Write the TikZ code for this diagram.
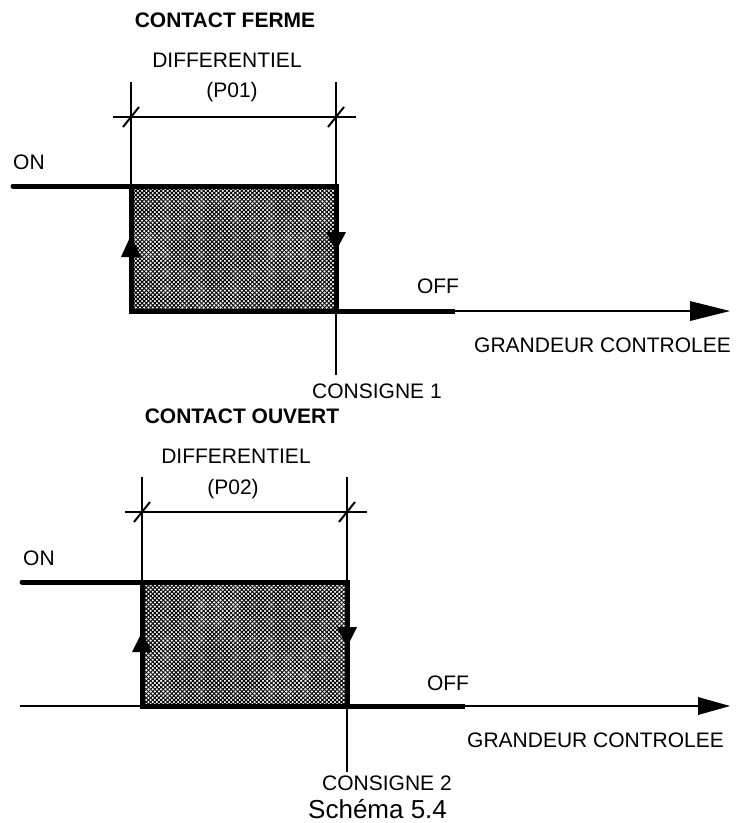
\documentclass[tikz,border=0pt]{standalone}
\usepackage{fontspec}
\setmainfont{Liberation Sans}
\usetikzlibrary{patterns.meta}
\begin{document}
\begin{tikzpicture}[x=1pt,y=-1pt,
  thinln/.style={line width=2pt},
  thickln/.style={line width=5pt},
  lbl/.style={inner sep=0pt,anchor=base,font=\fontsize{21}{25}\selectfont},
  lblw/.style={lbl,anchor=base west},
  ttl/.style={inner sep=0pt,anchor=base,font=\fontsize{21}{25}\selectfont\bfseries},
  tipfill/.style={fill=black},
  hatchA/.style={pattern={Lines[angle=45,distance=3pt,line width=1pt]}},
  hatchB/.style={pattern={Lines[angle=-45,distance=3pt,line width=1pt]}},
]
\useasboundingbox (0,0) rectangle (737,823);

% ================= TOP : CONTACT FERME =================
\node[ttl] (t1title) at (225,27) {CONTACT FERME};
\node[lbl] (t1diff) at (227,67) {DIFFERENTIEL};
\node[lbl] (t1p) at (232,97) {(P01)};
\node[lblw] (t1on) at (13,169) {ON};
\node[lbl] (t1off) at (438,293) {OFF};
\node[lblw] (t1gr) at (474,352) {GRANDEUR CONTROLEE};
\node[lblw] (t1cons) at (312,398) {CONSIGNE 1};

\coordinate (t1Ltop) at (131,82);
\coordinate (t1Lbot) at (131,311);
\coordinate (t1Rtop) at (336,82);
\coordinate (t1Rbot) at (336,375);
\coordinate (t1DimL) at (113,117);
\coordinate (t1DimR) at (356,117);
\coordinate (t1A) at (131,186);
\coordinate (t1B) at (336,311);
\coordinate (t1OnL) at (13,186);
\coordinate (t1OffE) at (455,311);
\coordinate (t1AxE) at (692,311);

\fill[hatchA] (t1A) rectangle (t1B);
\fill[hatchB] (t1A) rectangle (t1B);
\draw[thinln] (t1Ltop) -- (t1Lbot);
\draw[thinln] (t1Rtop) -- (t1Rbot);
\draw[thinln] (t1DimL) -- (t1DimR);
\draw[thinln] (131,117) ++(-8,10) -- ++(16,-20);
\draw[thinln] (336,117) ++(-8,10) -- ++(16,-20);
\draw[thickln,line cap=round] (t1OnL) -- (t1A);
\draw[thickln] (t1A) rectangle (t1B);
\draw[thickln] (t1B) -- (t1OffE);
\draw[thinln] (t1OffE) -- (t1AxE);
\fill[tipfill] (690,301) -- (730,311) -- (690,321) -- cycle;
\fill[tipfill] (131,235) -- (141,257) -- (121,257) -- cycle;
\fill[tipfill] (326,232) -- (346,232) -- (336,251) -- cycle;

% ================= BOTTOM : CONTACT OUVERT =================
\node[ttl] (t2title) at (242,423) {CONTACT OUVERT};
\node[lbl] (t2diff) at (236,463) {DIFFERENTIEL};
\node[lbl] (t2p) at (233,494) {(P02)};
\node[lblw] (t2on) at (23,565) {ON};
\node[lbl] (t2off) at (448,690) {OFF};
\node[lblw] (t2gr) at (467,747) {GRANDEUR CONTROLEE};
\node[lblw] (t2cons) at (322,790) {CONSIGNE 2};
\node[inner sep=0pt,anchor=base west,font=\fontsize{26}{30}\selectfont] (cap) at (308,818) {Schéma 5.4};

\coordinate (t2Ltop) at (142,477);
\coordinate (t2Lbot) at (142,706);
\coordinate (t2Rtop) at (347,477);
\coordinate (t2Rbot) at (347,772);
\coordinate (t2DimL) at (125,512);
\coordinate (t2DimR) at (367,512);
\coordinate (t2A) at (142,582);
\coordinate (t2B) at (347,706);
\coordinate (t2OnL) at (22,582);
\coordinate (t2AxS) at (20,706);
\coordinate (t2OffE) at (465,706);
\coordinate (t2AxE) at (700,706);

\fill[hatchA] (t2A) rectangle (t2B);
\fill[hatchB] (t2A) rectangle (t2B);
\draw[thinln] (t2AxS) -- (t2AxE);
\draw[thinln] (t2Ltop) -- (t2Lbot);
\draw[thinln] (t2Rtop) -- (t2Rbot);
\draw[thinln] (t2DimL) -- (t2DimR);
\draw[thinln] (142,512) ++(-8,10) -- ++(16,-20);
\draw[thinln] (347,512) ++(-8,10) -- ++(16,-20);
\draw[thickln,line cap=round] (t2OnL) -- (t2A);
\draw[thickln] (t2A) rectangle (t2B);
\draw[thickln] (t2B) -- (t2OffE);
\fill[tipfill] (698,697) -- (730,706) -- (698,715) -- cycle;
\fill[tipfill] (142,632) -- (152,652) -- (132,652) -- cycle;
\fill[tipfill] (337,627) -- (357,627) -- (347,647) -- cycle;
\end{tikzpicture}
\end{document}
